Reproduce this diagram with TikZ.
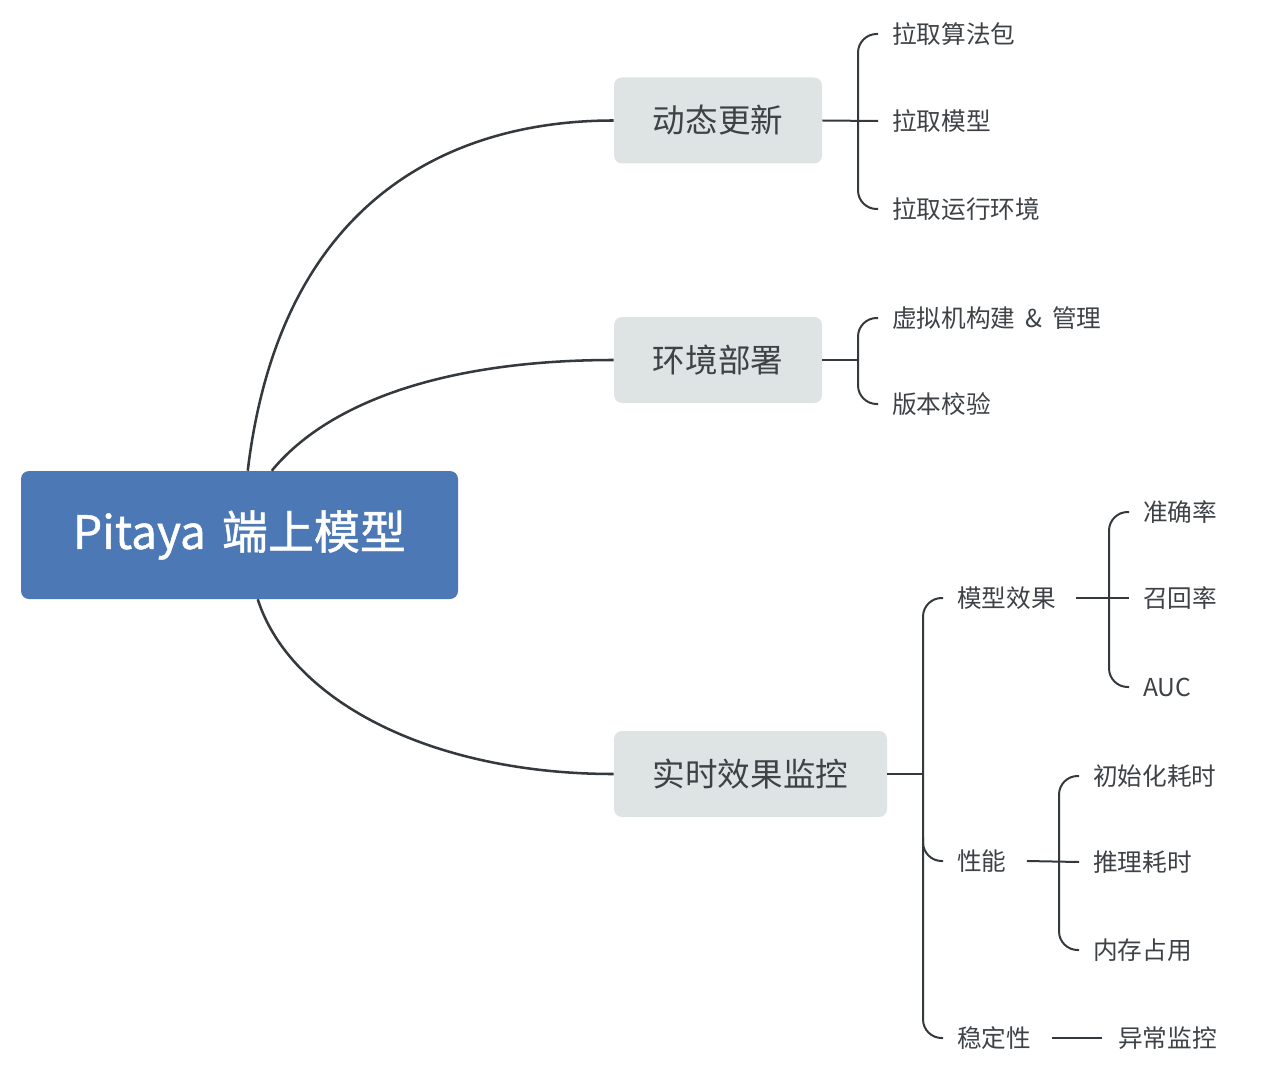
\documentclass[tikz,border=0pt]{standalone}
\usepackage{fontspec}
\setmainfont{Noto Sans CJK SC}
\newfontfamily\rootfont[FakeBold=1]{Noto Sans CJK SC}
\usetikzlibrary{calc}
\definecolor{rootblue}{HTML}{4C79B6}
\definecolor{topicgray}{HTML}{DEE3E4}
\definecolor{ln}{HTML}{34393E}
\definecolor{txt}{HTML}{3E4246}
\begin{document}
\begin{tikzpicture}[x=0.75pt,y=-0.75pt]
\tikzset{
 rootbox/.style={fill=rootblue, rounded corners=6pt, text=white, font=\rootfont\fontsize{34.5}{40}\selectfont, minimum width=327.75pt, minimum height=96pt, inner sep=0pt},
 topic/.style={fill=topicgray, rounded corners=6pt, text=txt, font=\fontsize{24.4}{28}\selectfont, minimum height=64.5pt, inner sep=0pt},
 leaf/.style={text=txt, font=\fontsize{18.5}{22}\selectfont, inner sep=0pt, anchor=west},
 link/.style={draw=ln, line width=1.9pt},
 branch/.style={draw=ln, line width=1.5pt, rounded corners=14pt},
 stem/.style={draw=ln, line width=1.5pt}
}
\useasboundingbox (0,0) rectangle (1280,1091);
% root and topics
\node[rootbox] (root) at (239.5,535) {Pitaya\hspace{0.35em}端上模型};
\node[topic, minimum width=156pt] (t1) at (718,120.5) {动态更新};
\node[topic, minimum width=156pt] (t2) at (718,360) {环境部署};
\node[topic, minimum width=204.75pt] (t3) at (750.5,774) {实时效果监控};
% leaves
\node[leaf] (a1) at (892,34) {拉取算法包};
\node[leaf] (a2) at (892,121) {拉取模型};
\node[leaf] (a3) at (892,209) {拉取运行环境};
\node[leaf] (b1) at (892,318) {虚拟机构建\hspace{0.4em}\&\hspace{0.4em}管理};
\node[leaf] (b2) at (892,404) {版本校验};
\node[leaf] (c1) at (957,598) {模型效果};
\node[leaf] (c2) at (957,861) {性能};
\node[leaf] (c3) at (957,1038) {稳定性};
\node[leaf] (d1) at (1143,512) {准确率};
\node[leaf] (d2) at (1143,598) {召回率};
\node[leaf] (d3) at (1143,687) {AUC};
\node[leaf] (e1) at (1093,776) {初始化耗时};
\node[leaf] (e2) at (1093,862) {推理耗时};
\node[leaf] (e3) at (1093,950) {内存占用};
\node[leaf] (f1) at (1118,1038) {异常监控};
% root links
\draw[link] ($(root.north west)+(227,0)$) .. controls (280,200) and (450,120.5) .. (t1.west);
\draw[link] ($(root.north west)+(251,0)$) .. controls (330,400) and (450,360) .. (t2.west);
\draw[link] ($(root.south west)+(237,0)$) .. controls (290,700) and (430,774) .. (t3.west);
% group a
\draw[stem] (t1.east) -- ($(a2.west)+(-14,0)$);
\draw[branch] ($(a1.west)+(-14,0)$) -- ($(a1.west)+(-34,0)$) -- ($(a3.west)+(-34,0)$) -- ($(a3.west)+(-14,0)$);
% group b
\draw[stem] (t2.east) -- ($(t2.east)+(36,0)$);
\draw[branch] ($(b1.west)+(-14,0)$) -- ($(b1.west)+(-34,0)$) -- ($(b2.west)+(-34,0)$) -- ($(b2.west)+(-14,0)$);
% group c
\draw[stem] (t3.east) -- ($(t3.east)+(36,0)$);
\draw[branch] ($(c1.west)+(-14,0)$) -- ($(c1.west)+(-34,0)$) -- ($(c3.west)+(-34,0)$) -- ($(c3.west)+(-14,0)$);
\draw[branch] ($(c2.west)+(-34,-24)$) -- ($(c2.west)+(-34,0)$) -- ($(c2.west)+(-14,0)$);
% group d
\draw[stem] ($(c1.east)+(20,0)$) -- ($(d2.west)+(-14,0)$);
\draw[branch] ($(d1.west)+(-14,0)$) -- ($(d1.west)+(-34,0)$) -- ($(d3.west)+(-34,0)$) -- ($(d3.west)+(-14,0)$);
% group e
\draw[stem] ($(c2.east)+(20,0)$) -- ($(e2.west)+(-14,0)$);
\draw[branch] ($(e1.west)+(-14,0)$) -- ($(e1.west)+(-34,0)$) -- ($(e3.west)+(-34,0)$) -- ($(e3.west)+(-14,0)$);
% group f
\draw[stem] ($(c3.east)+(20,0)$) -- ($(f1.west)+(-16,0)$);
\end{tikzpicture}
\end{document}
